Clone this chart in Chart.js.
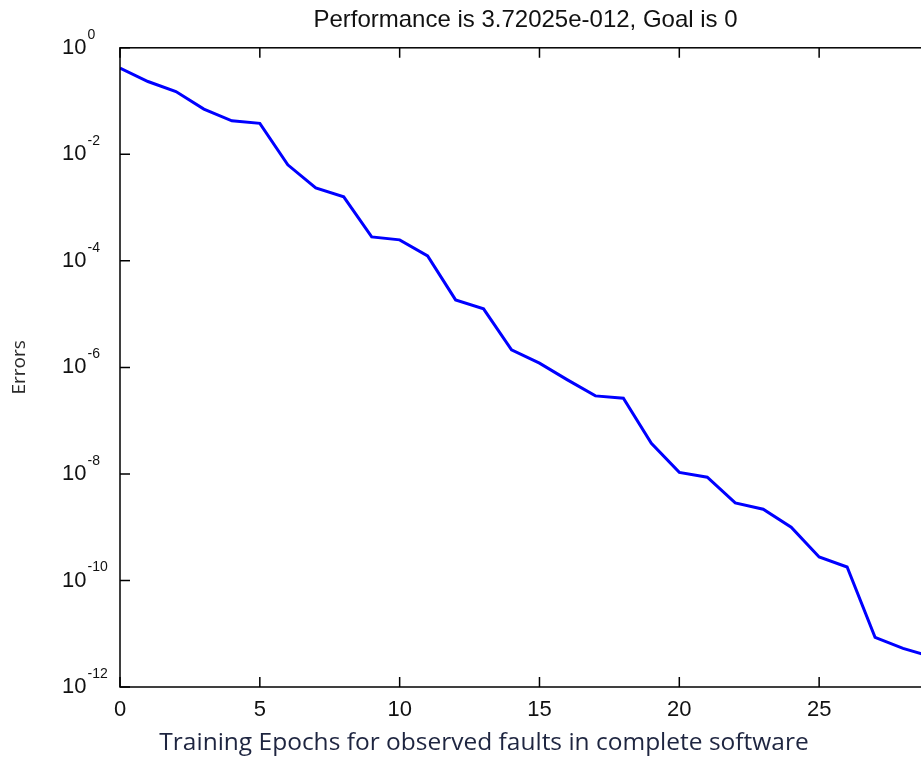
<!DOCTYPE html>
<html>
<head>
<meta charset="utf-8">
<script src="https://cdn.jsdelivr.net/npm/chart.js@4.4.1/dist/chart.umd.min.js"></script>
<style>
    html, body { margin: 0; padding: 0; background: #fff; overflow: hidden; }
    #wrap { width: 960px; height: 760px; }
</style>
</head>
<body>
<div id="wrap"><canvas id="perf" width="960" height="760"></canvas></div>
<script>
// values (log scale)
const epochs = [0, 1, 2, 3, 4, 5, 6, 7, 8, 9, 10, 11, 12, 13, 14, 15, 16, 17, 18, 19, 20, 21, 22, 23, 24, 25, 26, 27, 28, 29]
const errors = [
    0.416, 0.233, 0.151, 0.0706, 0.0426, 0.0382, 0.00635, 0.00235, 0.00159, 2.82e-4,
    2.48e-4, 1.24e-4, 1.85e-5, 1.26e-5, 2.13e-6, 1.2e-6, 5.83e-7, 2.92e-7, 2.64e-7, 3.77e-8,
    1.07e-8, 8.67e-9, 2.85e-9, 2.17e-9, 9.98e-10, 2.76e-10, 1.79e-10, 8.57e-12, 5.3e-12, 3.72e-12
]
const xTicks = [0, 5, 10, 15, 20, 25]
const yTickExponents = [0, -2, -4, -6, -8, -10, -12]

const titleText = 'Performance is 3.72025e-012, Goal is 0'
const xTitle = 'Training Epochs for observed faults in complete software'
const yTitle = 'Errors'

const tickLen = 10

// matlab style box: frame, inward ticks on all sides, 10^n labels, x title
const matlabBox = {
    id: 'matlabBox',
    afterDraw(chart) {
        const { ctx, chartArea: a, scales: { x, y } } = chart
        ctx.save()
        ctx.strokeStyle = '#000'
        ctx.lineWidth = 1.5
        ctx.strokeRect(a.left, a.top, a.right - a.left, a.bottom - a.top)
        ctx.beginPath()
        x.ticks.forEach(t => {
            const px = x.getPixelForValue(t.value)
            ctx.moveTo(px, a.bottom)
            ctx.lineTo(px, a.bottom - tickLen)
            ctx.moveTo(px, a.top)
            ctx.lineTo(px, a.top + tickLen)
        })
        y.ticks.forEach(t => {
            const py = y.getPixelForValue(t.value)
            ctx.moveTo(a.left, py)
            ctx.lineTo(a.left + tickLen, py)
            ctx.moveTo(a.right, py)
            ctx.lineTo(a.right - tickLen, py)
        })
        ctx.stroke()
        //
        ctx.fillStyle = '#111'
        ctx.textAlign = 'left'
        ctx.textBaseline = 'middle'
        y.ticks.forEach((t, i) => {
            const py = y.getPixelForValue(t.value)
            ctx.font = '22px "Liberation Sans"'
            ctx.fillText('10', a.left - 58, py)
            const w = ctx.measureText('10').width
            ctx.font = '14px "Liberation Sans"'
            ctx.fillText(String(yTickExponents[i]), a.left - 58 + w + 1, py - 13)
        })
        //
        ctx.font = '24.5px "Open Sans"'
        ctx.fillStyle = '#1e2540'
        ctx.textAlign = 'center'
        ctx.fillText(xTitle, a.left + 364, a.bottom + 56)
        ctx.restore()
    }
}

const chart = new Chart(document.getElementById('perf'), {
    type: 'line',
    data: {
        datasets: [
            {
                label: 'errors',
                data: epochs.map((e, i) => ({ x: e, y: errors[i] })),
                borderColor: '#0000ff',
                borderWidth: 3,
                pointRadius: 0,
                fill: false,
                tension: 0
            }
        ]
    },
    options: {
        animation: false,
        responsive: false,
        layout: { padding: { left: 0, top: 0, right: 29, bottom: 0 } },
        scales: {
            x: {
                type: 'linear',
                min: 0,
                max: 29,
                grid: { display: false, drawTicks: false },
                border: { display: false },
                afterBuildTicks: scale => {
                    scale.ticks = xTicks.map(v => ({ value: v }))
                },
                afterFit: scale => {
                    scale.height = 73
                },
                ticks: {
                    padding: 10,
                    color: '#111',
                    font: { family: 'Liberation Sans', size: 22 }
                }
            },
            y: {
                type: 'logarithmic',
                min: 1e-12,
                max: 1,
                grid: { display: false, drawTicks: false },
                border: { display: false },
                afterBuildTicks: scale => {
                    scale.ticks = yTickExponents.map(e => ({ value: Math.pow(10, e) }))
                },
                afterFit: scale => {
                    scale.width = 120
                },
                ticks: { display: false },
                title: {
                    display: true,
                    text: yTitle,
                    color: '#2a2a2a',
                    font: { family: 'Open Sans', size: 19 },
                    padding: { top: 8, bottom: 0 }
                }
            }
        },
        plugins: {
            legend: { display: false },
            tooltip: { enabled: false },
            title: {
                display: true,
                text: titleText,
                fullSize: false,
                color: '#111',
                font: { family: 'Liberation Sans', size: 24, weight: 'normal' },
                padding: { top: 6, bottom: 13 }
            }
        }
    },
    plugins: [matlabBox]
})
</script>
</body>
</html>
